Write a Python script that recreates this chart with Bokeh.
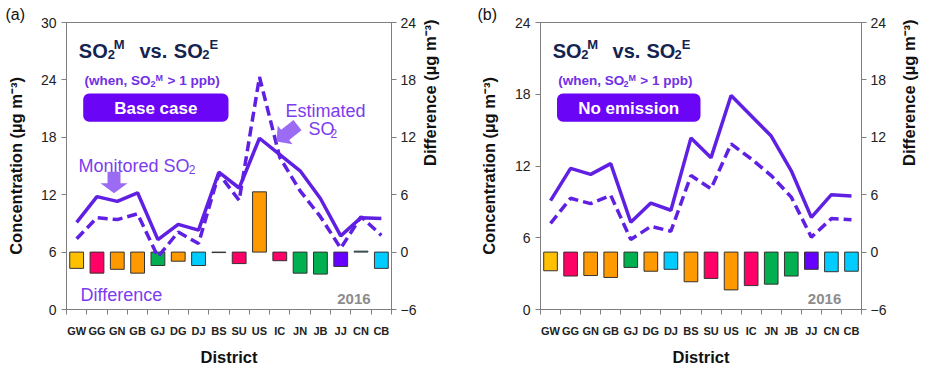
import math
from bokeh.plotting import figure
from bokeh.models import (Range1d, LinearAxis, FixedTicker, Label, BoxAnnotation, PolyAnnotation)
from bokeh.layouts import row
from bokeh.embed import file_html
from bokeh.resources import INLINE

# ---------------- data ----------------
districts = ["GW", "GG", "GN", "GB", "GJ", "DG", "DJ", "BS",
             "SU", "US", "IC", "JN", "JB", "JJ", "CN", "CB"]
monitored = [9.1, 11.8, 11.3, 12.2, 7.3, 8.9, 8.3, 14.35,
             12.7, 17.9, 16.2, 14.5, 11.6, 7.7, 9.6, 9.5]
est_base = [7.4, 9.6, 9.4, 10.0, 5.5, 8.1, 6.9, 14.2,
            11.4, 24.3, 15.9, 12.4, 9.7, 6.4, 9.7, 7.75]
diff_base = [-1.7, -2.2, -1.8, -2.2, -1.4, -0.95, -1.4, -0.05,
             -1.2, 6.3, -0.9, -2.2, -2.3, -1.5, 0.1, -1.7]
est_noemis = [7.2, 9.3, 8.85, 9.55, 5.85, 6.95, 6.55, 11.2,
              10.1, 13.85, 12.6, 11.2, 9.4, 6.05, 7.6, 7.5]
diff_noemis = [-1.95, -2.5, -2.45, -2.65, -1.6, -2.0, -1.8, -3.1,
               -2.75, -3.95, -3.5, -3.35, -2.5, -1.8, -2.05, -2.0]
conc_ticks_a = [0, 6, 12, 18, 24, 30]
conc_ticks_b = [0, 6, 12, 18, 24]
diff_ticks = [-6, 0, 6, 12, 18, 24]

# ---------------- styles ----------------
bar_colors = ["#FFC000", "#FF0066", "#FF9900", "#FF9900", "#00B050", "#FF9900", "#00CCFF", "#FF9900",
              "#FF0066", "#FF9900", "#FF0066", "#00B050", "#00B050", "#6600FF", "#00CCFF", "#00CCFF"]
FONT = "Liberation Sans"
LINE = "#6020E4"
NAVY = "#14234F"
PURP_TXT = "#7030E6"
PURP_LIGHT = "#7B3CF0"
ARROW = "#9B6CF3"
BOX = "#6A05F6"
AXC = "#7f7f7f"
FW, FH = 325.0, 288.0   # frame size in px
FTOP = 22.0             # page y of frame top


def make_panel(tag, ymax, conc_ticks, est, diff, case_text, annotate,
               bl, br, tag_off, conc_standoff, diff_standoff):
    n = len(districts)
    xpos = [districts.index(d) + 0.5 for d in districts]   # category centres
    p = figure(width=465, height=368, x_range=Range1d(0, n),
               y_range=Range1d(0, ymax), x_axis_location=None,
               output_backend="svg", toolbar_location=None,
               min_border_left=bl, min_border_right=br, min_border_top=22, min_border_bottom=58)
    p.extra_y_ranges = {"diff": Range1d(diff_ticks[0], diff_ticks[-1])}
    p.xgrid.grid_line_color = None
    p.ygrid.grid_line_color = None
    p.outline_line_color = AXC
    p.background_fill_color = "white"
    p.border_fill_color = "white"

    # panel tag as title
    p.title.text = tag
    p.title.text_font = FONT
    p.title.text_font_size = "16px"
    p.title.text_font_style = "normal"
    p.title.text_color = "#111111"
    p.title.align = "left"
    p.title.offset = tag_off
    p.title.standoff = 0

    ya = p.yaxis[0]
    ya.ticker = FixedTicker(ticks=conc_ticks)
    ra = LinearAxis(y_range_name="diff", ticker=FixedTicker(ticks=diff_ticks))
    p.add_layout(ra, "right")
    for ax in (ya, ra):
        ax.major_label_text_font = FONT
        ax.major_label_text_font_size = "14px"
        ax.major_label_text_color = "#222222"
        ax.axis_line_color = AXC
        ax.major_tick_line_color = AXC
        ax.major_tick_out = 5
        ax.major_tick_in = 0
        ax.minor_tick_line_color = None
        ax.major_label_standoff = 5
        ax.axis_label_text_font = FONT
        ax.axis_label_text_font_size = "16.5px"
        ax.axis_label_text_font_style = "bold"
        ax.axis_label_text_color = "#111111"
    ya.axis_label = "Concentration (µg m⁻³)"
    ya.axis_label_standoff = conc_standoff
    ra.axis_label = "Difference (µg m⁻³)"
    ra.axis_label_standoff = diff_standoff
    ra.axis_label_orientation = math.pi / 2
    ra.major_label_standoff = 4

    xa = LinearAxis(ticker=FixedTicker(ticks=xpos, minor_ticks=list(range(n + 1))),
                    major_label_overrides={c: d for c, d in zip(xpos, districts)})
    xa.major_label_text_font = FONT
    xa.major_label_text_font_size = "11px"
    xa.major_label_text_font_style = "bold"
    xa.major_label_text_color = "#222222"
    xa.axis_line_color = AXC
    xa.major_tick_line_color = None
    xa.major_tick_out = 0
    xa.major_tick_in = 0
    xa.minor_tick_line_color = AXC
    xa.minor_tick_out = 5
    xa.minor_tick_in = 0
    xa.major_label_standoff = 10
    xa.axis_label = "District"
    xa.axis_label_text_font = FONT
    xa.axis_label_text_font_size = "16.5px"
    xa.axis_label_text_font_style = "bold"
    xa.axis_label_text_color = "#111111"
    xa.axis_label_standoff = 8
    p.add_layout(xa, "below")

    p.vbar(x=xpos, top=diff, bottom=0, width=0.68, y_range_name="diff",
           fill_color=bar_colors, line_color="#333333", line_width=1)
    p.line(x=xpos, y=monitored, line_color=LINE, line_width=3.5)
    p.line(x=xpos, y=est, line_color=LINE, line_width=3.5, line_dash="10 5")

    X = lambda dx: dx / FW * n
    Y = lambda py: (FTOP + FH - py) / FH * ymax

    def lab(dx, py, text, size, color, bold=False, align="left", baseline="alphabetic", angle=0.0):
        p.add_layout(Label(x=X(dx), y=Y(py), text=text, text_font=FONT,
                           text_font_size=f"{size}px", text_color=color,
                           text_font_style="bold" if bold else "normal",
                           text_align=align, text_baseline=baseline, angle=angle))

    lab(12.3, 50.7, "SO", 20, NAVY, True)
    lab(41.3, 54.5, "2", 13, NAVY, True)
    lab(47.3, 44.5, "M", 13, NAVY, True)
    lab(73.0, 50.7, "vs.", 20, NAVY, True)
    lab(107.3, 50.7, "SO", 20, NAVY, True)
    lab(135.7, 54.5, "2", 13, NAVY, True)
    lab(143.0, 44.5, "E", 13, NAVY, True)
    lab(18.0, 80.7, "(when, SO", 13.5, PURP_TXT, True)
    lab(84.0, 83.5, "2", 9, PURP_TXT, True)
    lab(89.0, 77.5, "M", 9, PURP_TXT, True)
    lab(101.0, 80.7, "> 1 ppb)", 13.5, PURP_TXT, True)
    p.add_layout(BoxAnnotation(left=X(16.7), right=X(162.0), top=Y(93.3), bottom=Y(121.7),
                               fill_color=BOX, fill_alpha=1.0, line_color=None, border_radius=6))
    lab(89.3, 107.8, case_text, 17, "white", True, align="center", baseline="middle")
    lab(270.7, 299, "2016", 15, "#8C8C8C", True)

    if annotate:
        lab(12.0, 166.0, "Monitored SO", 18, PURP_LIGHT)
        lab(122.3, 169.5, "2", 12, PURP_LIGHT)
        lab(219.0, 110.7, "Estimated", 18, PURP_LIGHT)
        lab(242.0, 129.3, "SO", 18, PURP_LIGHT)
        lab(264.0, 133.0, "2", 12, PURP_LIGHT)
        lab(14.0, 295.0, "Difference", 18, PURP_LIGHT)
        mx = [41, 54, 54, 61, 47.5, 34, 41]
        my = [171.7, 171.7, 183.3, 183.3, 193.3, 183.3, 183.3]
        p.add_layout(PolyAnnotation(xs=[X(v) for v in mx], ys=[Y(v) for v in my],
                                    fill_color=ARROW, fill_alpha=1.0, line_color=None))
        tip = (210.0, 141.5)
        tail = (231.0, 125.0)
        vx, vy = tail[0] - tip[0], tail[1] - tip[1]
        ln = math.hypot(vx, vy)
        ux, uy = vx / ln, vy / ln
        nx, ny = -uy, ux
        hl, hw, sw = 11.0, 12.0, 6.5
        bx, by = tip[0] + ux * hl, tip[1] + uy * hl
        pts = [tip,
               (bx + nx * hw, by + ny * hw),
               (bx + nx * sw, by + ny * sw),
               (tail[0] + nx * sw, tail[1] + ny * sw),
               (tail[0] - nx * sw, tail[1] - ny * sw),
               (bx - nx * sw, by - ny * sw),
               (bx - nx * hw, by - ny * hw)]
        p.add_layout(PolyAnnotation(xs=[X(a) for a, b in pts], ys=[Y(b) for a, b in pts],
                                    fill_color=ARROW, fill_alpha=1.0, line_color=None))
    return p


pa = make_panel("(a)", 30, conc_ticks_a, est_base, diff_base, "Base case", True,
                66, 74, -61, 13, 11)
pb = make_panel("(b)", 24, conc_ticks_b, est_noemis, diff_noemis, "No emission", False,
                75, 65, -63, 14, 20)

layout = row(pa, pb)
open("out.html", "w").write(file_html(layout, INLINE))
